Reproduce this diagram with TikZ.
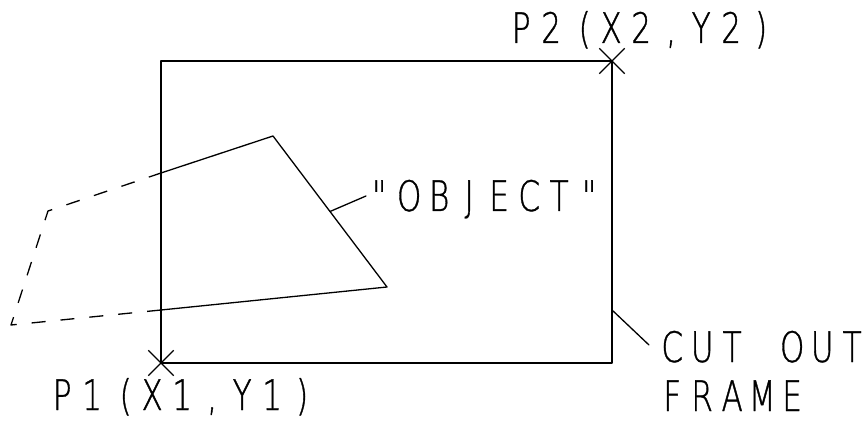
\documentclass[tikz,border=0pt]{standalone}
\usepackage{fontspec}
\usetikzlibrary{calc,shapes.misc}
\newfontfamily\plotfont[FakeStretch=0.74,FakeBold=0.8]{DejaVu Sans ExtraLight}
\newlength\pitchlen \setlength\pitchlen{30pt}
\def\monoend{\monoend}
\def\monoendtest{\monoend}
\def\mono#1{\monoA#1\monoend}
\def\monoA#1{\def\monotmp{#1}\ifx\monotmp\monoendtest\else\makebox[\pitchlen][c]{#1}\expandafter\monoA\fi}
\begin{document}
\begin{tikzpicture}[x=1pt,y=-1pt,
  ln/.style={line width=1.3pt, line cap=round, line join=round},
  dashln/.style={ln, line cap=butt, dash pattern=on 14pt off 15pt},
  lbl/.style={anchor=base west, inner sep=0pt, font=\plotfont\fontsize{42}{42}\selectfont},
  xmark/.style={cross out, draw, line width=1.3pt, minimum size=24pt, inner sep=0pt}]
\useasboundingbox (0,0) rectangle (867,422);
% frame
\coordinate (P1) at (161,363);
\coordinate (P2) at (612,61);
\draw[ln] (P1) rectangle (P2);
\node[xmark] (x1) at (P1) {};
\node[xmark] (x2) at (P2) {};
% object
\coordinate (A) at (161,173);
\coordinate (B) at (273,136);
\coordinate (C) at (387,287);
\coordinate (D) at (161,310);
\coordinate (E) at (48,211);
\coordinate (F) at (11,325);
\draw[ln] (A) -- (B) -- (C) -- (D);
\draw[dashln] (D) -- (F) -- (E) -- (A);
% labels
\node[lbl] (p2lbl) at (506,43) {\mono{P2{\hspace*{7pt}(}X2,Y2)}};
\node[lbl] (p1lbl) at (47,410) {\mono{P1{\hspace*{7pt}(}X1,Y1)}};
\node[lbl] (obj) at (364,211) {\mono{"OBJECT"}};
\node[lbl] (cut) at (657,362) {\mono{CUT~OUT}};
\node[lbl] (frm) at (657,411) {\mono{FRAME}};
% leaders
\coordinate (objpt) at ($(B)!0.5!(C)$);
\coordinate (objend) at (366,196);
\draw[ln] (objpt) -- (objend);
\coordinate (frpt) at (612,310);
\coordinate (cutend) at (649,345);
\draw[ln] (frpt) -- (cutend);
\end{tikzpicture}
\end{document}
